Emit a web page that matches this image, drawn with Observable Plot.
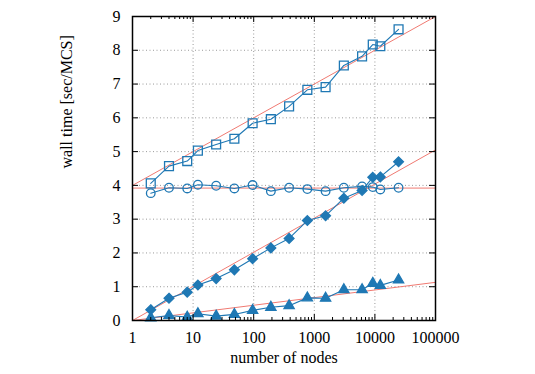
<!DOCTYPE html>
<html>
<head>
<meta charset="utf-8">
<script src="https://cdn.jsdelivr.net/npm/d3@7"></script>
<script src="https://cdn.jsdelivr.net/npm/@observablehq/plot@0.6"></script>
<style>
  html, body { margin: 0; padding: 0; background: white; }
  #chart svg, #chart svg text { font-family: "Liberation Serif", "Times New Roman", "DejaVu Serif", serif !important; }
</style>
</head>
<body>
<div id="chart"></div>
<script>
// ---- data ----
const nodes = [2, 4, 8, 12, 24, 48, 96, 192, 384, 768, 1536, 3072, 6144, 9216, 12288, 24576];
const squares = [4.06, 4.57, 4.72, 5.03, 5.21, 5.38, 5.84, 5.96, 6.34, 6.83, 6.91, 7.55, 7.82, 8.17, 8.12, 8.62];
const circles = [3.77, 3.93, 3.91, 4.02, 3.99, 3.91, 4.01, 3.83, 3.93, 3.89, 3.83, 3.93, 3.97, 3.95, 3.88, 3.93];
const diamonds = [0.32, 0.66, 0.84, 1.05, 1.24, 1.50, 1.83, 2.15, 2.43, 2.96, 3.10, 3.62, 3.85, 4.24, 4.25, 4.70];
const triangles = [0.08, 0.15, 0.10, 0.20, 0.13, 0.18, 0.30, 0.39, 0.44, 0.67, 0.66, 0.91, 0.91, 1.10, 1.04, 1.20];

// fit lines y = a + b*log10(x)
const fitIntercepts = [4.0, 3.92, 0.0, 0.0];
const fitSlopes = [1.0, 0.0, 1.01, 0.226];

const xTicks = [1, 10, 100, 1000, 10000, 100000];
const xTickLabels = ["1", "10", "100", "1000", "10000", "100000"];
const yTicks = [0, 1, 2, 3, 4, 5, 6, 7, 8, 9];
const xLabel = "number of nodes";
const yLabel = "wall time [sec/MCS]";

// ---- build tables ----
const blue = "#1f78b4";
const red = "#f07a72";
const serif = "'Liberation Serif', 'Times New Roman', serif";
const xDomain = [1, 100000];
const seriesDefs = [
  {values: squares, symbol: "square", filled: false, r: 5},
  {values: circles, symbol: "circle", filled: false, r: 4.3},
  {values: diamonds, symbol: "diamond2", filled: true, r: 4.4},
  {values: triangles, symbol: "triangle", filled: true, r: 3.8}
];
const fitRows = [];
fitIntercepts.forEach((a, i) => {
  xDomain.forEach(x => fitRows.push({id: i, x, y: a + fitSlopes[i] * Math.log10(x)}));
});
const minorTicks = [];
for (let d = 0; d < 5; d++) for (let k = 2; k <= 9; k++) minorTicks.push(k * Math.pow(10, d));
const labelOf = new Map(xTicks.map((t, i) => [t, xTickLabels[i]]));

const seriesMarks = [];
seriesDefs.forEach(s => {
  const rows = nodes.map((n, i) => ({x: n, y: s.values[i]}));
  seriesMarks.push(Plot.line(rows, {x: "x", y: "y", stroke: blue, strokeWidth: 1.1}));
  seriesMarks.push(Plot.dot(rows, {
    x: "x", y: "y", symbol: s.symbol, r: s.r,
    fill: s.filled ? blue : "none",
    stroke: blue, strokeWidth: 1.3
  }));
});

const plotH = 374 - 16 - 54;
const plotW = 535 - 132 - 100;

const chart = Plot.plot({
  width: 535,
  height: 374,
  marginLeft: 132,
  marginRight: 100,
  marginTop: 16,
  marginBottom: 54,
  style: {fontFamily: serif, fontSize: "16px", background: "white", color: "black"},
  x: {type: "log", domain: xDomain},
  y: {domain: [0, 9]},
  marks: [
    Plot.gridX(xTicks.slice(1, -1), {stroke: "#9a9a9a", strokeOpacity: 1, strokeDasharray: "1,2.5"}),
    Plot.gridY(yTicks.slice(1, -1), {stroke: "#9a9a9a", strokeOpacity: 1, strokeDasharray: "1,2.5"}),
    Plot.line(fitRows, {x: "x", y: "y", z: "id", stroke: red, strokeWidth: 1, clip: true}),
    ...seriesMarks,
    // major & minor ticks, inward, mirrored
    Plot.tickX(xTicks, {x: d => d, insetTop: plotH - 6, stroke: "black"}),
    Plot.tickX(xTicks, {x: d => d, insetBottom: plotH - 6, stroke: "black"}),
    Plot.tickX(minorTicks, {x: d => d, insetTop: plotH - 3, stroke: "black"}),
    Plot.tickX(minorTicks, {x: d => d, insetBottom: plotH - 3, stroke: "black"}),
    Plot.tickY(yTicks, {y: d => d, insetRight: plotW - 6, stroke: "black"}),
    Plot.tickY(yTicks, {y: d => d, insetLeft: plotW - 6, stroke: "black"}),
    Plot.axisX(xTicks, {tickSize: 0, tickPadding: 11, tickFormat: d => labelOf.get(d), label: null, fontSize: 16, fontFamily: serif}),
    Plot.axisY(yTicks, {tickSize: 0, tickPadding: 12, tickFormat: d => String(d), label: null, fontSize: 16, fontFamily: serif}),
    Plot.frame({stroke: "black", strokeWidth: 1.5}),
    Plot.text([yLabel], {text: d => d, frameAnchor: "left", dx: -66, rotate: -90, fontSize: 16, fontFamily: serif}),
    Plot.text([xLabel], {text: d => d, frameAnchor: "bottom", dy: 42, fontSize: 16, fontFamily: serif})
  ]
});
document.getElementById("chart").appendChild(chart);
</script>
</body>
</html>
